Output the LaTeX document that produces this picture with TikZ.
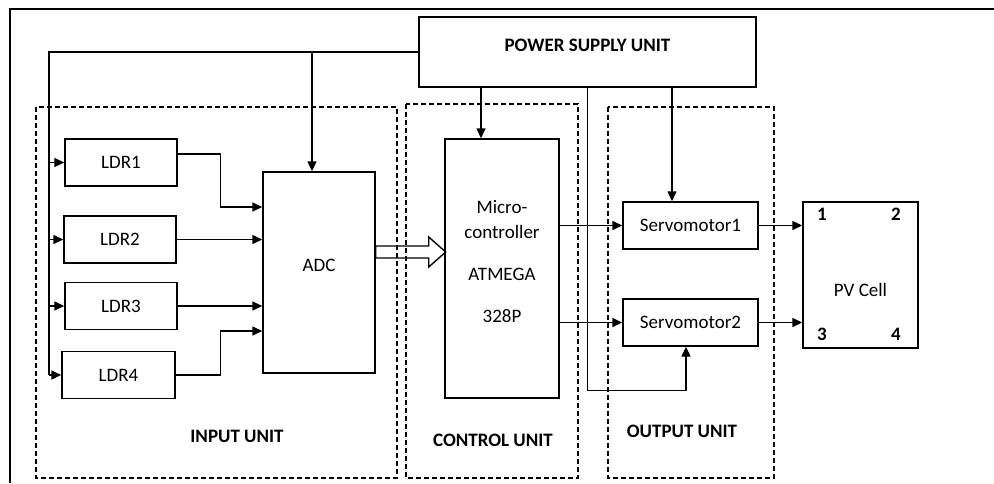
\documentclass[tikz,border=0pt]{standalone}
\usepackage{fontspec}
\setmainfont{Carlito}
\usetikzlibrary{arrows.meta,positioning}

\begin{document}
\begin{tikzpicture}[x=1pt,y=-1pt, line width=1.4pt,
  every node/.style={font=\fontsize{19}{25}\selectfont,align=center,inner sep=0pt},
  blk/.style={draw,minimum width=#1,minimum height=47},
  unitbox/.style={draw,dashed,dash pattern=on 5pt off 3pt},
  unitlbl/.style={font=\fontsize{19}{25}\selectfont\bfseries},
  conn/.style={-{Triangle[length=10pt,width=9pt]}}]
\useasboundingbox (0,0) rectangle (994,483);
\draw (10,483) |- (994,9);
% units
\draw[unitbox] (36,107) rectangle (397,478);
\draw[unitbox] (406,104) rectangle (578,478);
\draw[unitbox] (608,107) rectangle (774,478);
\node[unitlbl] (inlbl) at (237,436) {INPUT UNIT};
\node[unitlbl] (ctllbl) at (493,440) {CONTROL UNIT};
\node[unitlbl] (outlbl) at (682,431) {OUTPUT UNIT};
% blocks
\node[blk=337,minimum height=70] (psu) at (587.5,52) {};
\node[unitlbl] (psulbl) at (587.5,45) {POWER SUPPLY UNIT};
\node[blk=112] (ldr1) at (121,162.5) {LDR1};
\node[blk=112] (ldr2) at (120,239.5) {LDR2};
\node[blk=112] (ldr3) at (121,306) {LDR3};
\node[blk=113] (ldr4) at (118.5,375) {LDR4};
\node[blk=112,minimum height=201] (adc) at (319,272.5) {\raisebox{7pt}[\height][\depth]{ADC}};
\node[blk=114,minimum height=259] (mcu) at (502,268.5) {\raisebox{6pt}[\height][\depth]{\begin{tabular}{@{}c@{}}Micro-\\controller\\[17pt]ATMEGA\\[17pt]328P\end{tabular}}};
\node[blk=135] (servo1) at (690.5,225.5) {Servomotor1};
\node[blk=135] (servo2) at (690.5,322.5) {Servomotor2};
\node[blk=115,minimum height=146] (pv) at (860.5,275) {\raisebox{-15pt}[\height][\depth]{PV Cell}};
\node[unitlbl] (pv1) at (822,214) {1};
\node[unitlbl] (pv2) at (896,214) {2};
\node[unitlbl] (pv3) at (822,334) {3};
\node[unitlbl] (pv4) at (896,334) {4};
% power rail
\coordinate (rail) at (49,52);
\draw (psu.west) -- (rail) -- (rail |- ldr4.west);
\foreach \i in {1,...,4} \draw[conn] (rail |- ldr\i.west) -- (ldr\i.west);
\draw[conn] ([xshift=-7pt]adc.north |- rail) -- ([xshift=-7pt]adc.north);
\draw[conn] ([xshift=-21pt]mcu.north |- psu.south) -- ([xshift=-21pt]mcu.north);
\draw[conn] ([xshift=-18.5pt]servo1.north |- psu.south) -- ([xshift=-18.5pt]servo1.north);
\draw[conn] (psu.south) -- ++(0,303) -| ([xshift=-4.5pt]servo2.south);
% sensors to ADC
\draw[conn] ([yshift=8.5pt]ldr1.east) -- ++(43,0) |- ([yshift=65.5pt]adc.west);
\draw[conn] (ldr2.east) -- (ldr2.east -| adc.west);
\draw[conn] (ldr3.east) -- (ldr3.east -| adc.west);
\draw[conn] (ldr4.east) -- ++(45,0) |- ([yshift=-58.5pt]adc.west);
% data bus
\draw ([yshift=26.5pt]adc.east) -- ++(53,0) -- ++(0,-9) -- ++(17,15) -- ++(-17,15) -- ++(0,-9) -- ++(-53,0) -- cycle;
% outputs
\draw[conn] (servo1.west -| mcu.east) -- (servo1.west);
\draw[conn] (servo2.west -| mcu.east) -- (servo2.west);
\draw[conn] (servo1.east) -- (servo1.east -| pv.west);
\draw[conn] (servo2.east) -- (servo2.east -| pv.west);
\end{tikzpicture}
\end{document}
